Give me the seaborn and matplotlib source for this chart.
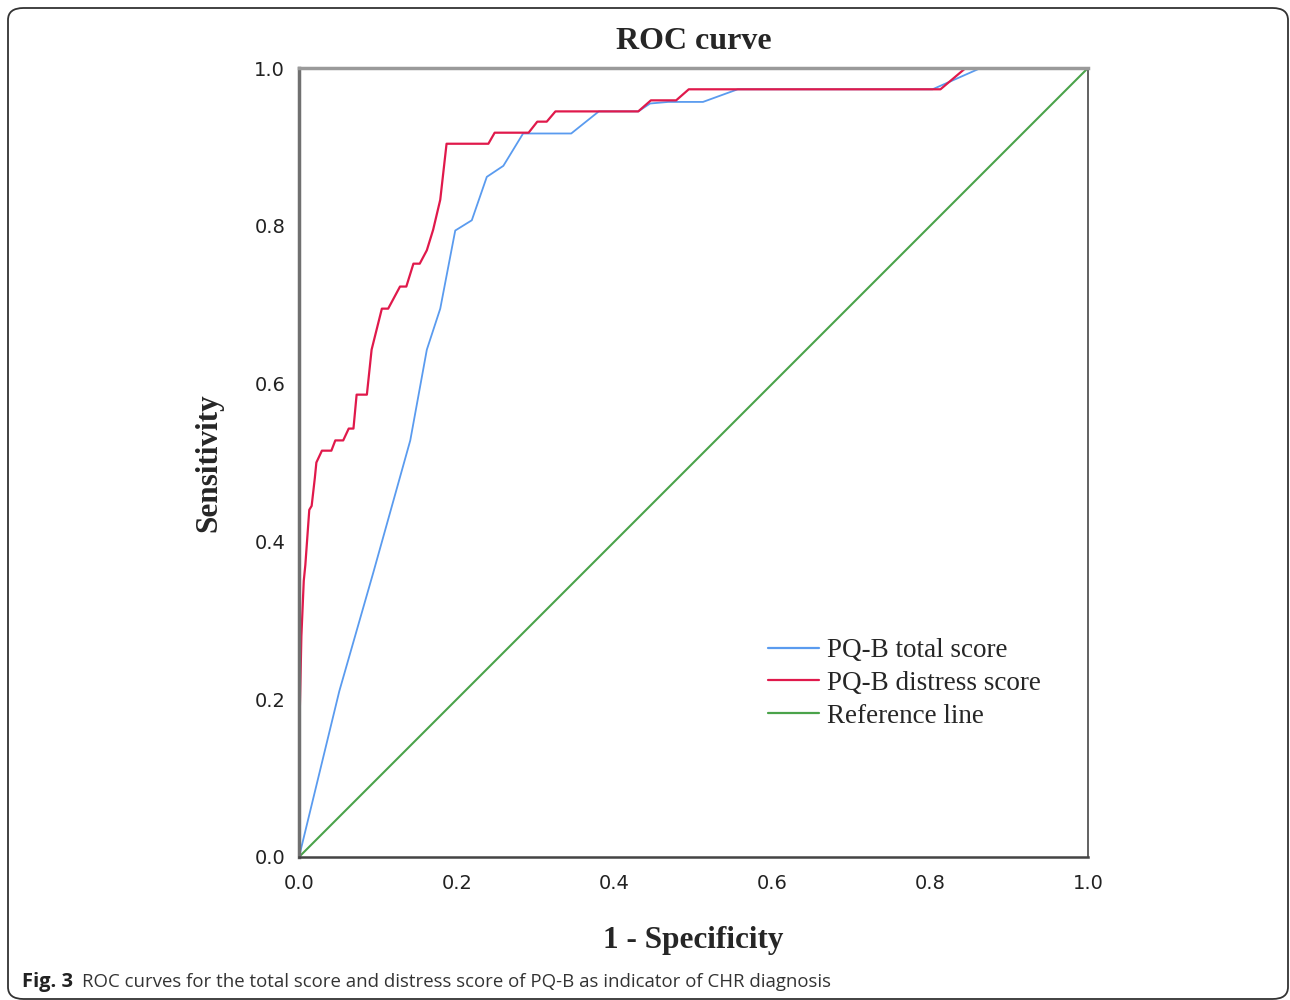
import numpy as np
import pandas as pd
import matplotlib
matplotlib.use('Agg')
import matplotlib.pyplot as plt
import seaborn as sns
from matplotlib.patches import FancyBboxPatch
from matplotlib.lines import Line2D

# Pontos das curvas ROC
fpr_total = [0.0, 0.051, 0.094, 0.141, 0.162, 0.179, 0.198, 0.219, 0.238, 0.259,
             0.284, 0.345, 0.380, 0.430, 0.445, 0.468, 0.512, 0.556, 0.803, 0.864, 1.0]
tpr_total = [0.0, 0.210, 0.360, 0.528, 0.643, 0.695, 0.794, 0.807, 0.862, 0.876,
             0.917, 0.917, 0.945, 0.945, 0.955, 0.957, 0.957, 0.973, 0.973, 1.0, 1.0]

fpr_distress = [0.0, 0.0, 0.003, 0.006, 0.008, 0.013, 0.016, 0.020, 0.022, 0.029,
                0.041, 0.046, 0.056, 0.063, 0.069, 0.073, 0.086, 0.092, 0.105, 0.113,
                0.128, 0.136, 0.145, 0.153, 0.162, 0.170, 0.179, 0.187, 0.240, 0.248,
                0.291, 0.302, 0.314, 0.325, 0.430, 0.446, 0.478, 0.494, 0.813, 0.845, 1.0]
tpr_distress = [0.0, 0.140, 0.280, 0.350, 0.370, 0.440, 0.445, 0.480, 0.500, 0.515,
                0.515, 0.528, 0.528, 0.543, 0.543, 0.586, 0.586, 0.643, 0.695, 0.695,
                0.723, 0.723, 0.752, 0.752, 0.769, 0.795, 0.833, 0.904, 0.904, 0.918,
                0.918, 0.932, 0.932, 0.945, 0.945, 0.959, 0.959, 0.973, 0.973, 1.0, 1.0]

ref_x = [0.0, 1.0]
ref_y = [0.0, 1.0]

series_names = ['PQ-B total score', 'PQ-B distress score', 'Reference line']
cores = ['#5A9BEF', '#E0194B', '#4AA34A']

tick_vals = [0.0, 0.2, 0.4, 0.6, 0.8, 1.0]
tick_labels = ['0.0', '0.2', '0.4', '0.6', '0.8', '1.0']

sns.set_style('white')
plt.rcParams['font.family'] = ['DejaVu Sans']
serif = ['Liberation Serif', 'DejaVu Serif']

fig = plt.figure(figsize=(12.9, 10), dpi=100)
ax = fig.add_axes([0.2318, 0.143, 0.6116, 0.789])

sns.lineplot(x=fpr_total, y=tpr_total, ax=ax, color=cores[0], linewidth=1.3,
             sort=False, estimator=None)
sns.lineplot(x=fpr_distress, y=tpr_distress, ax=ax, color=cores[1], linewidth=1.6,
             sort=False, estimator=None)
sns.lineplot(x=ref_x, y=ref_y, ax=ax, color=cores[2], linewidth=1.5,
             sort=False, estimator=None)

ax.set_xlim(0, 1)
ax.set_ylim(0, 1)
ax.set_xticks(tick_vals)
ax.set_xticklabels(tick_labels)
ax.set_yticks(tick_vals)
ax.set_yticklabels(tick_labels)
ax.tick_params(axis='both', length=0, labelsize=14, colors='#222222')
ax.tick_params(axis='x', pad=12)
ax.tick_params(axis='y', pad=10)

# Bordas do gráfico
ax.spines['top'].set_color('#9a9a9a')
ax.spines['top'].set_linewidth(2.5)
ax.spines['left'].set_color('#707070')
ax.spines['left'].set_linewidth(2.5)
ax.spines['right'].set_color('#555555')
ax.spines['right'].set_linewidth(1.3)
ax.spines['bottom'].set_color('#444444')
ax.spines['bottom'].set_linewidth(1.8)

ax.set_title('ROC curve', fontsize=23, fontweight='bold', family=serif, pad=14)
ax.set_xlabel('1 - Specificity', fontsize=22.5, fontweight='bold', family=serif, labelpad=24)
ax.set_ylabel('Sensitivity', fontsize=22.5, fontweight='bold', family=serif, labelpad=22)

handles = [Line2D([0], [0], color=c, linewidth=1.6) for c in cores]
ax.legend(handles, series_names, loc='center left', bbox_to_anchor=(0.594, 0.220),
          frameon=False, prop={'family': serif, 'size': 19.5}, handlelength=1.9,
          handletextpad=0.3, labelspacing=0.28, borderpad=0, borderaxespad=0)

# Legenda da figura
fig.text(22 / 1290, 1 - 982 / 1000, 'Fig. 3', fontsize=14.5, fontweight='bold',
         family='Open Sans', va='center', ha='left', color='#222222')
fig.text(82 / 1290, 1 - 982 / 1000,
         'ROC curves for the total score and distress score of PQ-B as indicator of CHR diagnosis',
         fontsize=13.4, family='Open Sans', va='center', ha='left', color='#333333')

# Moldura arredondada
moldura = FancyBboxPatch((8 / 1290, 1 / 1000), 1280 / 1290, 991 / 1000,
                         boxstyle='round,pad=0,rounding_size=0.012',
                         transform=fig.transFigure, fill=False,
                         edgecolor='#333333', linewidth=1.3)
fig.patches.append(moldura)

plt.savefig('out.png', dpi=100)
plt.close()
